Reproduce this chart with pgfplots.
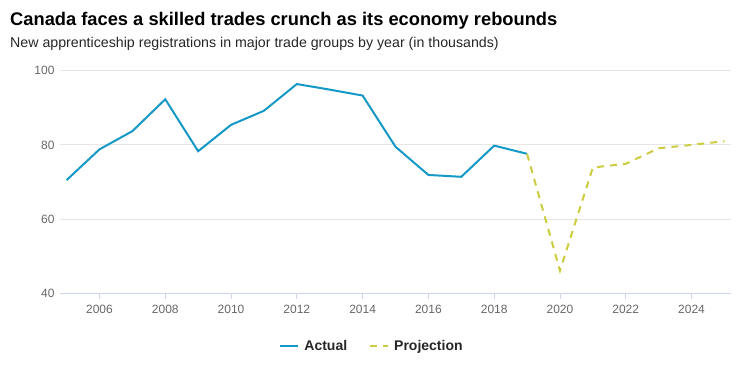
\documentclass[border=0pt]{standalone}
\usepackage{pgfplots}
\pgfplotsset{compat=1.18}
\usepackage{fontspec}
\setmainfont{Liberation Sans}
\definecolor{actual}{RGB}{20,152,198}
\definecolor{proj}{RGB}{204,204,64}
\definecolor{gridc}{RGB}{230,230,230}
\definecolor{axisc}{RGB}{204,214,235}
\definecolor{tickc}{RGB}{102,102,102}
\begin{document}
\begin{tikzpicture}
\useasboundingbox (0pt,0pt) rectangle (750pt,366pt);
\node[anchor=base west,inner sep=0,font=\fontsize{18.3}{21}\selectfont\bfseries] at (10pt,340pt) {Canada faces a skilled trades crunch as its economy rebounds};
\node[anchor=base west,inner sep=0,font=\fontsize{14.2}{17}\selectfont,text=black!85] at (10pt,318pt) {New apprenticeship registrations in major trade groups by year (in thousands)};
\begin{axis}[
  at={(60pt,72.7pt)}, anchor=south west,
  scale only axis, width=671pt, height=222.6pt,
  xmin=2004.8, xmax=2025.2, ymin=40, ymax=100,
  xtick={2006,2008,...,2024}, ytick={40,60,80,100},
  xticklabel style={/pgf/number format/1000 sep={}},
  /pgf/number format/assume math mode=true,
  ticklabel style={font=\fontsize{12}{14}\selectfont, text=tickc},
  yticklabel style={xshift=-2pt},
  xticklabel style={yshift=-2pt},
  ymajorgrids, grid style={gridc, line width=0.8pt},
  axis x line*=bottom, axis y line*=left,
  x axis line style={axisc, line width=0.8pt, -},
  y axis line style={draw=none},
  xtick style={axisc, line width=0.8pt},
  ytick style={draw=none},
  major tick length=6pt,
  xtick align=outside,
  legend columns=2,
  legend style={at={(0.465,-0.237)}, anchor=center, draw=none, fill=none,
    font=\fontsize{14}{16}\selectfont\bfseries, text=black!85,
    /tikz/every odd column/.append style={column sep=3pt},
    /tikz/every even column/.append style={column sep=20pt}},
  legend image code/.code={\draw[#1] (0pt,0pt) -- (18pt,0pt);},
]
\addplot[actual, line width=2pt] coordinates {
(2005,70.5) (2006,78.8) (2007,83.7) (2008,92.3) (2009,78.3) (2010,85.4)
(2011,89.2) (2012,96.4) (2013,94.9) (2014,93.3) (2015,79.5) (2016,71.9)
(2017,71.4) (2018,79.8) (2019,77.6)};
\addlegendentry{Actual}
\addplot[proj, line width=2pt, dash pattern=on 7pt off 6pt] coordinates {
(2019,77.6) (2020,46.1) (2021,73.9) (2022,74.9) (2023,79.1) (2024,80.0) (2025,81.0)};
\addlegendentry{Projection}
\end{axis}
\end{tikzpicture}
\end{document}
